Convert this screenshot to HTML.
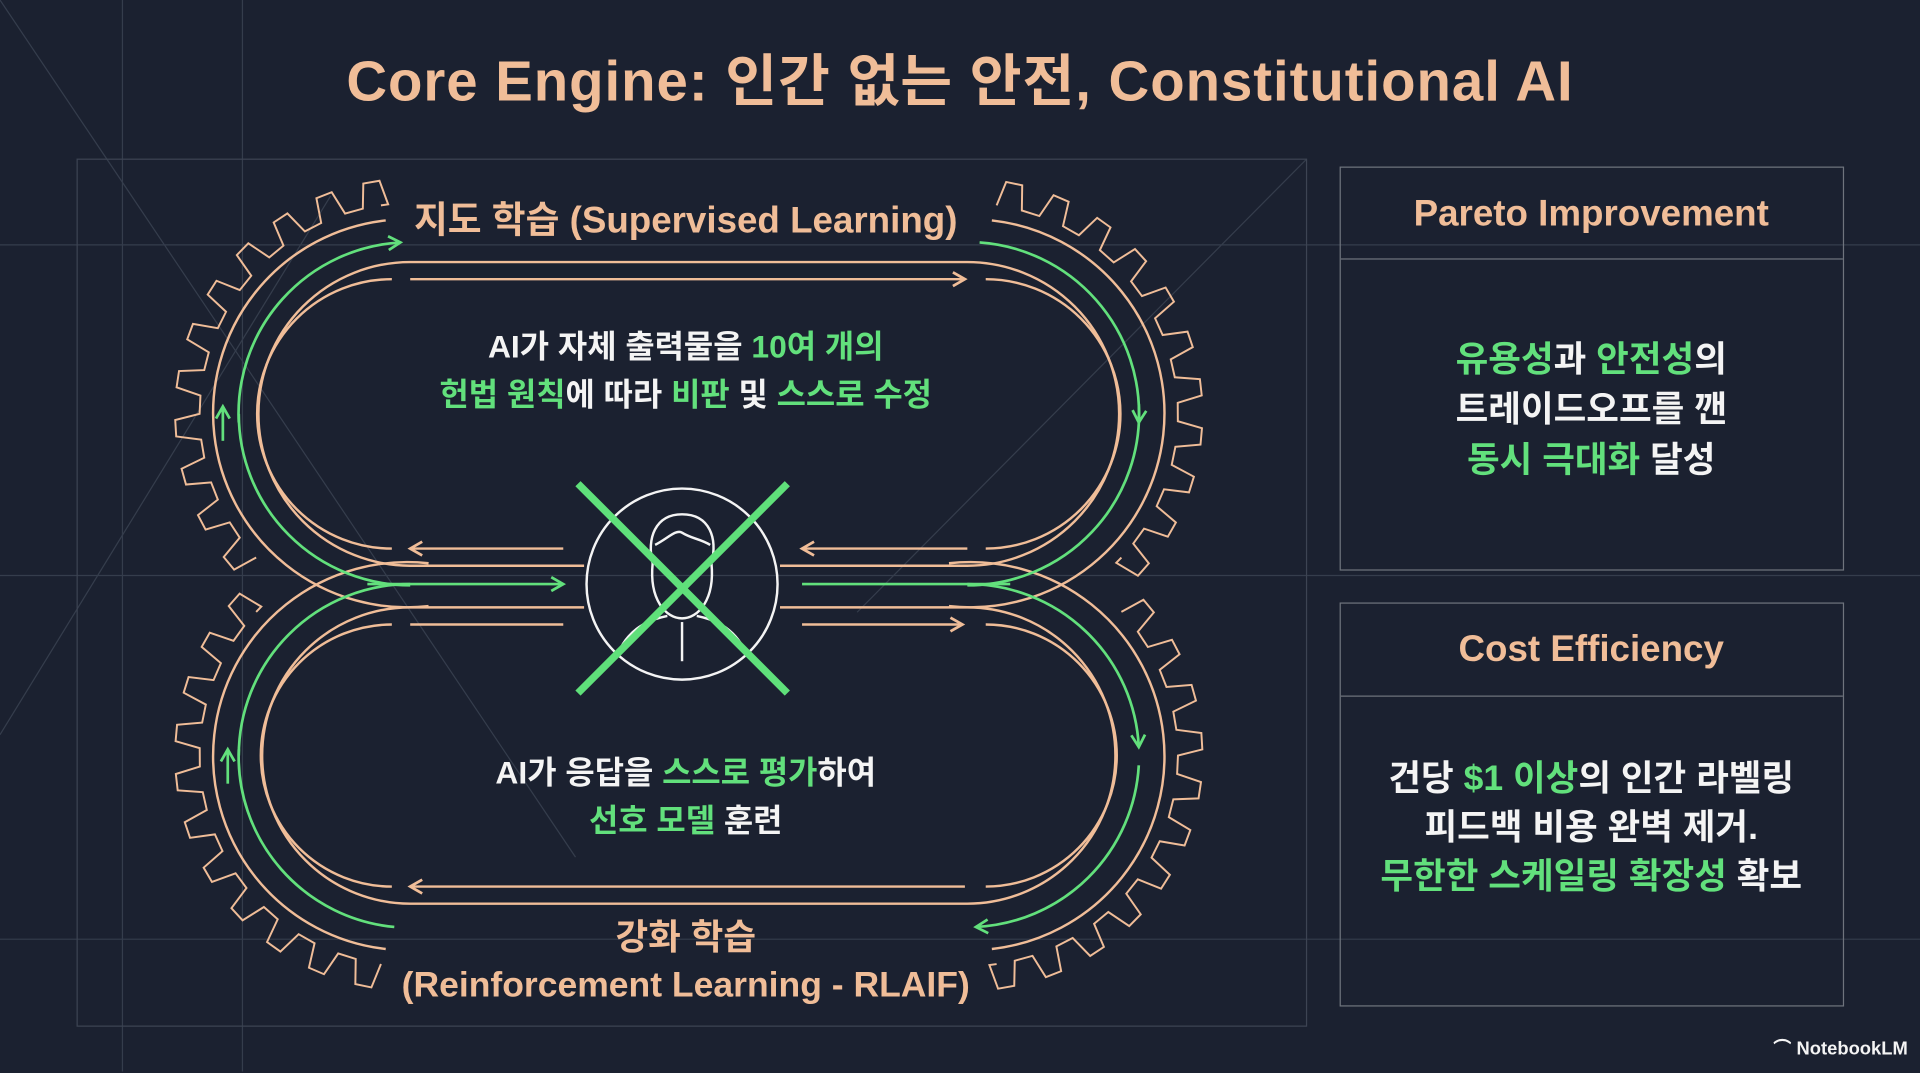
<!DOCTYPE html>
<html><head><meta charset="utf-8">
<style>
html,body{margin:0;padding:0;background:#1b2130;}
body{width:1920px;height:1072px;overflow:hidden;position:relative;}
#s{position:absolute;left:0;top:0;width:1568px;height:876px;transform:scale(1.2245);transform-origin:0 0;font-family:"Liberation Sans","Noto Sans CJK KR",sans-serif;}
svg{position:absolute;left:0;top:0;}
.t{position:absolute;text-align:center;white-space:nowrap;}
.p{color:#f0bd98;}
.g{color:#62e07c;}
.w{color:#f4f4f4;}
.box{position:absolute;border:1.5px solid #6f747d;box-sizing:border-box;}
.hd{position:absolute;left:0;right:0;border-bottom:1.5px solid #6f747d;}
</style></head><body>
<div id="s">
<svg width="1568" height="876" viewBox="0 0 1568 876">
 <g stroke="#353d4c" stroke-width="1" fill="none">
  <line x1="100" y1="0" x2="100" y2="875"/>
  <line x1="198" y1="0" x2="198" y2="875"/>
  <line x1="0" y1="200" x2="1568" y2="200"/>
  <line x1="0" y1="470" x2="1568" y2="470"/>
  <line x1="0" y1="767" x2="1568" y2="767"/>
  <line x1="0" y1="0" x2="470" y2="700"/>
  <line x1="0" y1="600" x2="270" y2="160"/>
  <line x1="1067" y1="130" x2="700" y2="500"/>
  <rect x="63" y="130" width="1004" height="708" stroke="#3d4453"/>
 </g>
 <defs>
  <marker id="ag" viewBox="0 0 10 10" refX="8" refY="5" markerWidth="14" markerHeight="14" markerUnits="userSpaceOnUse" orient="auto"><path d="M1,1 L8,5 L1,9" fill="none" stroke="#62e07c" stroke-width="1.6"/></marker>
  <marker id="ap" viewBox="0 0 10 10" refX="8" refY="5" markerWidth="14" markerHeight="14" markerUnits="userSpaceOnUse" orient="auto"><path d="M1,1 L8,5 L1,9" fill="none" stroke="#f0bd98" stroke-width="1.6"/></marker>
 </defs>
 <g id="gears" fill="none" stroke="#f0bd98" stroke-width="1.6"></g>
 <g fill="none" stroke="#f0bd98" stroke-width="2">
  <path d="M335,214 H790 A124,124 0 0 1 790,462 H637 M477,462 H335 A124,124 0 0 1 335,214"/>
  <path d="M335,228 H788" marker-end="url(#ap)"/>
  <path d="M320,228 A110,110 0 0 0 320,448"/>
  <path d="M805,228 A110,110 0 0 1 805,448"/>
  <path d="M460,448 H335" marker-end="url(#ap)"/>
  <path d="M790,448 H655" marker-end="url(#ap)"/>
  <path d="M335,496 H477 M637,496 H790 A121,121 0 0 1 790,738 H335 A121,121 0 0 1 335,496"/>
  <path d="M335,510 H460"/>
  <path d="M655,510 H786" marker-end="url(#ap)"/>
  <path d="M320,510 A107,107 0 0 0 320,724"/>
  <path d="M805,510 A107,107 0 0 1 805,724"/>
  <path d="M788,724 H335" marker-end="url(#ap)"/>
  <path d="M315,180 A158,158 0 0 0 350,495"/>
  <path d="M315,775 A158,158 0 0 1 350,460"/>
  <path d="M810,180 A158,158 0 0 1 775,495"/>
  <path d="M810,775 A158,158 0 0 0 775,460"/>
 </g>
 <g fill="none" stroke="#62e07c" stroke-width="2.2">
  <path d="M300,477 H460" marker-end="url(#ag)"/>
  <path d="M655,477 H825"/>
  <path d="M335,478 A140,140 0 0 1 195,338" />
  <path d="M195,345 A140,140 0 0 1 327,198" marker-end="url(#ag)"/>
  <path d="M335,477 A140,140 0 0 0 195,617"/>
  <path d="M195,612 A140,140 0 0 0 322,757"/>
  <path d="M800,198 A140,140 0 0 1 930,345" marker-end="url(#ag)"/>
  <path d="M930,330 A140,140 0 0 1 790,478"/>
  <path d="M790,477 A140,140 0 0 1 930,610" marker-end="url(#ag)"/>
  <path d="M930,625 A140,140 0 0 1 797,757" marker-end="url(#ag)"/>
  <path d="M182,360 V332" marker-end="url(#ag)"/>
  <path d="M186,640 V612" marker-end="url(#ag)"/>
 </g>
 <g fill="none" stroke="#f4f4f4" stroke-width="2">
  <circle cx="557" cy="477" r="78"/>
  <path d="M533,460 C528,440 535,420 557,420 C580,420 586,440 581,460 C584,490 570,505 557,505 C544,505 530,490 533,460 Z"/>
  <path d="M535,445 C545,440 552,432 557,435 C565,440 572,440 580,445"/>
  <path d="M505,533 C515,510 535,505 545,503 M609,533 C599,510 579,505 569,503"/>
  <line x1="557" y1="508" x2="557" y2="540"/>
 </g>
 <g stroke="#5fe07a" stroke-width="6" stroke-linecap="butt">
  <line x1="472" y1="395" x2="643" y2="566"/>
  <line x1="643" y1="395" x2="472" y2="566"/>
 </g>
</svg>

<div class="t p" style="left:0;width:1568px;top:38px;font-size:46px;font-weight:bold;line-height:56px;letter-spacing:0.8px;">Core Engine: 인간 없는 안전, Constitutional AI</div>

<div class="t p" style="left:310px;width:500px;top:162px;font-size:30px;line-height:38px;font-weight:bold;">지도 학습 (Supervised Learning)</div>
<div class="t w" style="left:310px;width:500px;top:264px;font-size:26px;line-height:39px;font-weight:bold;">AI가 자체 출력물을 <span class="g">10여 개의</span><br><span class="g">헌법 원칙</span>에 따라 <span class="g">비판</span> 및 <span class="g">스스로 수정</span></div>
<div class="t w" style="left:310px;width:500px;top:612px;font-size:26px;line-height:39px;font-weight:bold;">AI가 응답을 <span class="g">스스로 평가</span>하여<br><span class="g">선호 모델</span> 훈련</div>
<div class="t p" style="left:310px;width:500px;top:747px;font-size:29px;line-height:39px;font-weight:bold;">강화 학습<br>(Reinforcement Learning - RLAIF)</div>

<div class="box" style="left:1094px;top:136px;width:412px;height:330px;">
 <div class="hd" style="top:0;height:74px;"></div>
 <div class="t p" style="left:0;width:409px;top:20px;font-size:30px;line-height:36px;font-weight:bold;">Pareto Improvement</div>
 <div class="t w" style="left:0;width:409px;top:137px;font-size:29px;line-height:41px;font-weight:bold;"><span class="g">유용성</span>과 <span class="g">안전성</span>의<br>트레이드오프를 깬<br><span class="g">동시 극대화</span> 달성</div>
</div>
<div class="box" style="left:1094px;top:492px;width:412px;height:330px;">
 <div class="hd" style="top:0;height:75px;"></div>
 <div class="t p" style="left:0;width:409px;top:20px;font-size:30px;line-height:36px;font-weight:bold;">Cost Efficiency</div>
 <div class="t w" style="left:0;width:409px;top:123px;font-size:29px;line-height:40px;font-weight:bold;">건당 <span class="g">$1 이상</span>의 인간 라벨링<br>피드백 비용 완벽 제거.<br><span class="g">무한한 스케일링 확장성</span> 확보</div>
</div>
<div class="t w" style="left:1448px;top:848px;font-size:15px;line-height:18px;font-weight:bold;">⌒ NotebookLM</div>
</div>
<script>
(function(){
 var g=document.getElementById('gears');var out='';
 function gear(cx,cy,a0,a1){
  var R=172,T=192,step=12,d='';var first=true;
  for(var a=a0;a<a1-1;a+=step){
   var pts=[[a,R],[a+1.5,T],[a+5.5,T],[a+7,R],[Math.min(a+step,a1),R]];
   for(var i=0;i<pts.length;i++){var t=pts[i][0]*Math.PI/180,r=pts[i][1];
    d+=(first?'M':'L')+(cx+r*Math.cos(t)).toFixed(1)+','+(cy+r*Math.sin(t)).toFixed(1);first=false;}
  }
  out+='<path d="'+d+'"/>';
 }
 gear(335,338,137,262);
 gear(335,617,98,223);
 gear(790,338,-82,43);
 gear(790,617,-43,82);
 g.innerHTML=out;
})();
</script>
</body></html>
